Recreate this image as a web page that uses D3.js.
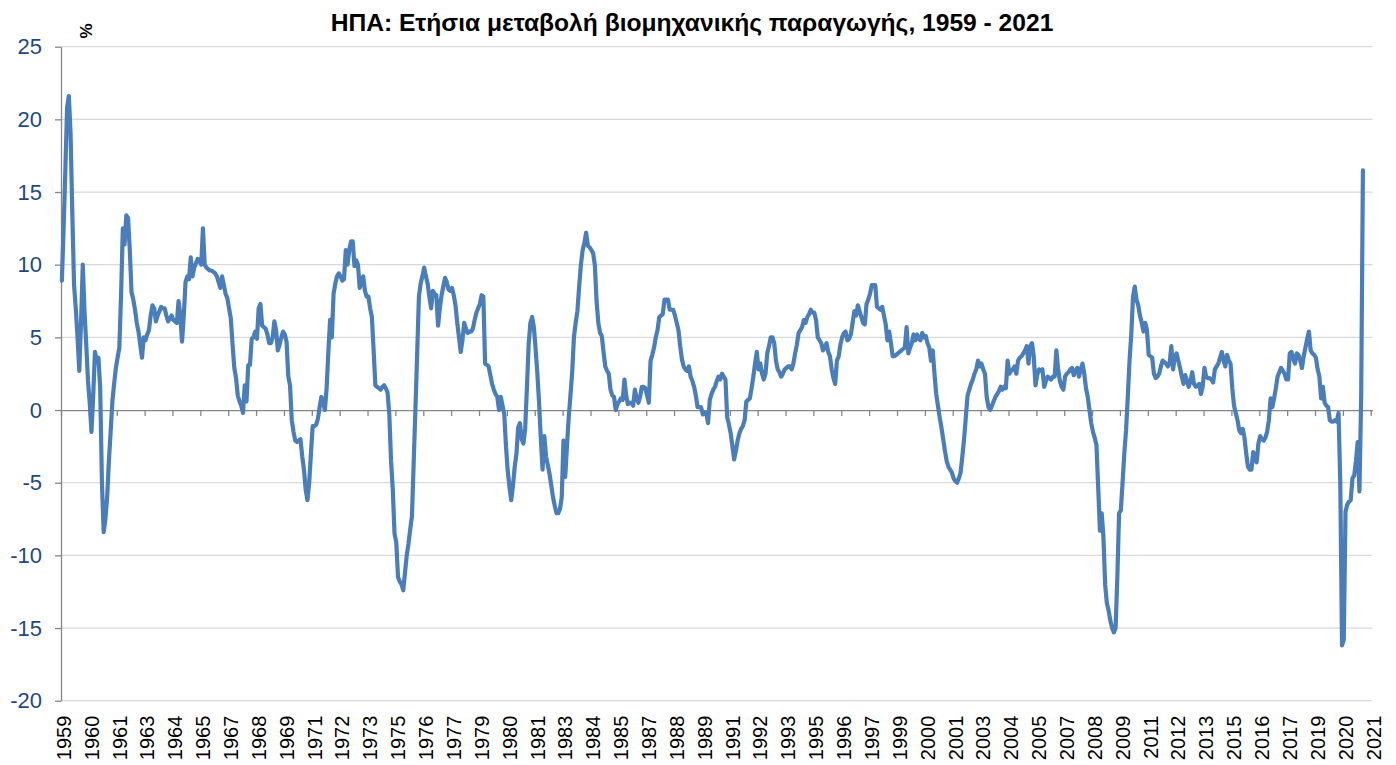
<!DOCTYPE html>
<html>
<head>
<meta charset="utf-8">
<script src="https://cdn.jsdelivr.net/npm/d3@7"></script>
<style>
  body { margin: 0; background: #fff; }
  svg { font-family: "Liberation Sans", Arial, sans-serif; }
</style>
</head>
<body>
<script>
// US industrial production, year-on-year % change, monthly from Jan 1959
var ip1959 = [8.9, 12.5, 16.5, 20.8, 21.6, 19.0, 13.5, 8.6, 7.0, 5.0, 2.7, 6.0];

var ip1960s = [
  10.0, 6.8, 4.5, 2.0, 0.5, -1.5, 1.0, 4.0, 3.4, 3.6, 1.5, -5.0,
  -8.4, -7.5, -6.0, -3.5, -1.5, 0.6, 1.8, 2.9, 3.6, 4.3, 8.0, 12.5,
  11.4, 13.4, 13.2, 11.0, 8.1, 7.6, 6.9, 6.0, 5.4, 4.5, 3.6, 5.0,
  4.8, 5.2, 5.5, 6.5, 7.2, 7.0, 6.1, 6.5, 6.8, 7.1, 7.0, 7.0,
  6.5, 6.1, 6.3, 6.5, 6.2, 6.1, 6.0, 7.5, 6.5, 4.7, 6.5, 8.8,
  9.2, 9.0, 10.5, 9.2, 9.8, 10.1, 10.4, 10.3, 10.0, 12.5, 10.0, 9.8,
  9.7, 9.6, 9.6, 9.5, 9.4, 9.2, 8.8, 8.4, 9.2, 8.6, 8.0, 7.7,
  7.0, 6.3, 4.5, 2.9, 2.2, 1.0, 0.6, 0.3, -0.2, 1.7, 0.6, 3.1,
  3.1, 4.9, 5.0, 5.4, 4.9, 7.0, 7.3, 5.8, 5.7, 5.6, 5.2, 4.6,
  4.6, 5.0, 6.1, 5.5, 4.1, 4.5, 5.0, 5.4, 5.2, 4.7, 2.3, 1.7
];

var ip1970s = [
  -0.7, -1.5, -2.1, -2.2, -2.1, -2.0, -3.2, -4.1, -5.5, -6.2, -5.0, -3.0,
  -1.1, -1.1, -1.0, -0.6, 0.2, 0.9, 0.5, 0.0, 1.5, 4.0, 6.2, 5.0,
  8.0, 8.7, 9.2, 9.4, 9.2, 8.9, 9.0, 11.0, 10.0, 11.0, 11.6, 11.6,
  9.9, 10.3, 10.0, 8.4, 8.8, 9.2, 8.2, 7.8, 7.8, 7.0, 6.4, 4.1,
  1.7, 1.6, 1.5, 1.4, 1.6, 1.7, 1.5, 1.2, -0.3, -3.5, -5.5, -8.5,
  -9.1, -11.5, -11.8, -12.0, -12.4, -11.2, -10.0, -9.2, -8.2, -7.3, -3.6, 0.1,
  3.9, 7.8, 8.7, 9.2, 9.8, 9.2, 8.7, 7.8, 7.0, 8.2, 8.0, 7.9,
  5.8, 7.0, 7.9, 8.5, 9.1, 8.8, 8.3, 8.2, 8.4, 7.9, 7.2, 6.0,
  5.0, 4.0, 4.8, 6.0, 5.6, 5.3, 5.4, 5.4, 5.6, 6.2, 6.7, 7.0,
  7.3, 7.9, 7.8, 3.2, 3.1, 3.0, 2.4, 1.8, 1.4, 1.1, 0.9, 0.0
];

var ip1980s = [
  0.9, 0.3, -0.3, -2.5, -4.2, -5.3, -6.2, -5.2, -3.9, -3.0, -1.2, -0.9,
  -2.0, -2.3, -1.3, 1.5, 4.5, 6.0, 6.4, 5.7, 4.2, 2.5, 0.5, -2.0,
  -4.1, -1.8, -3.2, -3.8, -4.4, -5.2, -6.0, -6.6, -7.1, -7.1, -6.8, -6.0,
  -2.1, -4.6, -2.5, -0.5, 1.0, 2.6, 5.0, 6.0, 6.8, 8.5, 10.0, 11.0,
  11.5, 12.2, 11.3, 11.2, 11.0, 10.8, 10.0, 7.5, 6.0, 5.3, 5.1, 4.0,
  3.0, 2.7, 2.5, 1.4, 1.0, 0.9, 0.0, 0.4, 0.6, 0.8, 0.7, 2.1,
  1.0, 0.4, 0.5, 0.5, 0.3, 1.4, 0.8, 0.5, 0.9, 1.6, 1.6, 1.5,
  1.0, 0.5, 3.4, 3.8, 4.3, 5.0, 5.5, 6.4, 6.5, 6.6, 7.6, 7.6,
  7.6, 6.9, 6.9, 6.9, 6.5, 6.0, 5.5, 4.4, 3.5, 3.0, 2.8, 2.7,
  3.0, 2.3, 2.0, 1.6, 1.0, 0.2, 0.2, 0.2, -0.3, -0.2, -0.2, -0.9
];

var ip1990s = [
  0.7, 1.1, 1.4, 1.6, 2.0, 2.3, 2.1, 2.5, 2.3, 2.1, -0.5, -1.0,
  -1.6, -2.5, -3.4, -2.8, -2.1, -1.6, -1.3, -1.1, -0.7, 0.6, 0.7, 0.8,
  1.5, 2.3, 3.2, 4.0, 2.8, 3.2, 2.5, 2.1, 2.5, 3.9, 4.4, 5.0,
  5.0, 4.6, 3.4, 2.8, 2.6, 2.3, 2.5, 2.8, 2.9, 3.0, 3.0, 2.8,
  3.2, 3.9, 4.5, 5.3, 5.5, 5.7, 6.2, 6.0, 6.4, 6.6, 6.9, 6.7,
  6.7, 6.2, 5.0, 4.8, 4.6, 4.1, 4.3, 4.6, 4.0, 3.7, 2.8, 2.2,
  1.8, 3.4, 3.7, 4.5, 5.0, 5.3, 5.4, 4.8, 4.9, 5.2, 6.0, 6.8,
  6.5, 7.2, 6.8, 6.4, 6.0, 5.9, 7.3, 7.6, 8.0, 8.6, 8.6, 8.6,
  7.1, 7.0, 6.9, 7.1, 6.5, 5.9, 4.8, 5.4, 4.6, 3.7, 3.7, 3.8,
  3.9, 4.0, 4.1, 4.2, 4.3, 5.7, 3.9, 4.3, 4.6, 5.2, 4.8, 5.2
];

var ip2000s = [
  4.9, 4.8, 5.3, 5.0, 5.1, 4.6, 4.3, 3.4, 4.1, 2.5, 1.1, 0.3,
  -0.5, -1.2, -2.0, -2.8, -3.5, -3.9, -4.1, -4.3, -4.7, -4.9, -5.0, -4.7,
  -4.3, -3.2, -2.0, -0.5, 1.0, 1.4, 1.8, 2.1, 2.5, 2.8, 3.4, 3.0,
  3.2, 2.8, 2.5, 0.9, 0.2, 0.0, 0.3, 0.6, 0.9, 1.1, 1.3, 1.6,
  1.4, 1.6, 1.5, 3.4, 2.5, 2.7, 2.8, 3.0, 2.5, 3.4, 3.6, 3.7,
  3.9, 4.1, 4.4, 3.2, 4.4, 4.6, 3.7, 1.7, 2.4, 2.8, 2.7, 2.8,
  1.6, 2.0, 2.3, 2.2, 2.1, 2.3, 2.3, 4.1, 2.8, 2.0, 1.6, 1.4,
  2.3, 2.5, 2.6, 2.8, 2.9, 2.4, 2.7, 2.9, 2.3, 2.8, 3.2, 2.5,
  1.5, 0.9, 0.0, -0.9, -1.5, -1.9, -2.4, -5.3, -8.3, -7.1, -8.7, -12.0,
  -13.3, -13.8, -14.5, -15.0, -15.3, -15.0, -11.5, -7.1, -6.9, -5.0, -3.0, -1.4
];

var ip2010s = [
  0.9, 3.4, 5.2, 7.8, 8.5, 7.6, 7.2, 6.5, 6.0, 5.4, 6.0, 5.5,
  3.8, 3.7, 3.6, 2.5, 2.2, 2.3, 2.5, 3.0, 3.4, 3.3, 3.2, 3.0,
  3.2, 4.4, 2.8, 3.6, 3.9, 3.4, 2.9, 2.3, 1.8, 2.4, 2.0, 1.6,
  2.0, 2.6, 1.8, 1.6, 1.7, 1.8, 1.1, 1.6, 2.9, 2.3, 2.2, 2.2,
  2.1, 1.9, 2.8, 3.0, 3.2, 3.6, 4.0, 3.4, 3.0, 3.8, 3.4, 3.2,
  1.5, 0.3, -0.2, -0.7, -1.4, -1.6, -1.3, -1.9, -3.0, -3.9, -4.1, -4.1,
  -2.9, -3.3, -3.6, -2.3, -1.8, -2.0, -2.1, -1.9, -1.5, -0.7, 0.8, 0.2,
  0.8, 1.5, 2.3, 2.6, 2.9, 2.7, 2.5, 2.1, 2.1, 3.9, 4.0, 3.5,
  3.2, 3.9, 3.8, 3.4, 2.9, 3.7, 4.3, 4.9, 5.4, 4.1, 3.9, 3.8,
  3.6, 2.8, 2.3, 0.8, 1.6, 0.5, 0.3, 0.2, -0.7, -0.8, -0.8, -0.7
];

var ip2020s = [
  -0.8, -0.2, -5.0, -16.2, -15.8, -7.0, -6.5, -6.3, -6.2, -4.7, -4.5, -3.5,
  -2.2, -5.6, 1.0, 16.5
];

// category axis: one slot per month, Jan 1959 .. Sep 2021, a label every 16 months
var nCategories = 753;
var labelEvery = 16;
var xTickLabels = ['1959', '1960', '1961', '1963', '1964', '1965', '1967', '1968',
  '1969', '1971', '1972', '1973', '1975', '1976', '1977', '1979', '1980', '1981',
  '1983', '1984', '1985', '1987', '1988', '1989', '1991', '1992', '1993', '1995',
  '1996', '1997', '1999', '2000', '2001', '2003', '2004', '2005', '2007', '2008',
  '2009', '2011', '2012', '2013', '2015', '2016', '2017', '2019', '2020', '2021'];
var yTicks = [-20, -15, -10, -5, 0, 5, 10, 15, 20, 25];

var title = 'ΗΠΑ: Ετήσια μεταβολή βιομηχανικής παραγωγής, 1959 - 2021';

var data = [].concat(ip1959, ip1960s, ip1970s, ip1980s, ip1990s, ip2000s, ip2010s, ip2020s);

var width = 1396, height = 765;
var plot = {left: 61, right: 1372.5, top: 46.7, bottom: 700.7};

var svg = d3.select('body').append('svg')
    .attr('width', width)
    .attr('height', height);

var x = d3.scaleLinear()
    .domain([0, nCategories])
    .range([plot.left, plot.right]);
var y = d3.scaleLinear()
    .domain([-20, 25])
    .range([plot.bottom, plot.top]);

// horizontal gridlines
svg.append('g')
  .selectAll('line')
    .data(yTicks.filter(function(d) { return d !== 0; }))
    .enter()
  .append('line')
    .attr('x1', plot.left)
    .attr('x2', plot.right)
    .attr('y1', function(d) { return y(d); })
    .attr('y2', function(d) { return y(d); })
    .attr('stroke', '#d9d9d9')
    .attr('stroke-width', 1.3);

// y axis (plain hyphen for negatives, like the original)
var yAxis = svg.append('g')
    .attr('transform', 'translate(' + plot.left + ',0)')
    .call(d3.axisLeft(y)
      .tickValues(yTicks)
      .tickFormat(function(d) { return String(d); })
      .tickSize(6).tickSizeOuter(0).tickPadding(13));
yAxis.select('.domain').attr('stroke', '#868686').attr('stroke-width', 1.3);
yAxis.selectAll('.tick line').attr('stroke', '#868686').attr('stroke-width', 1.3);
yAxis.selectAll('.tick text')
    .attr('fill', '#1f497d')
    .style('font-size', '22px');

// zero line with month-group tick marks
var zeroAxis = svg.append('g')
    .attr('transform', 'translate(0,' + y(0) + ')')
    .call(d3.axisBottom(x)
      .tickValues(d3.range(0, nCategories, labelEvery))
      .tickFormat('')
      .tickSize(6)
      .tickSizeOuter(0));
zeroAxis.select('.domain').attr('stroke', '#868686').attr('stroke-width', 1.3);
zeroAxis.selectAll('.tick line').attr('stroke', '#868686').attr('stroke-width', 1.3);

// year labels along the bottom, rotated
var labelAxis = svg.append('g')
    .attr('transform', 'translate(0,' + plot.bottom + ')')
    .call(d3.axisBottom(x)
      .tickValues(d3.range(0, nCategories, labelEvery).map(function(d) { return d + 0.5; }))
      .tickFormat(function(d, i) { return xTickLabels[i]; })
      .tickSize(0));
labelAxis.select('.domain').remove();
labelAxis.selectAll('.tick text')
    .attr('transform', 'rotate(-90)')
    .attr('x', -15)
    .attr('y', 0)
    .attr('dy', '0.42em')
    .style('text-anchor', 'end')
    .attr('fill', '#000')
    .style('font-size', '20px');

// the series
var line = d3.line()
    .x(function(d, i) { return x(i + 0.5); })
    .y(function(d) { return y(d); });

svg.append('path')
    .datum(data)
    .attr('d', line)
    .attr('fill', 'none')
    .attr('stroke', '#4a7ebb')
    .attr('stroke-width', 4.2)
    .attr('stroke-linejoin', 'round')
    .attr('stroke-linecap', 'round');

// title
svg.append('text')
    .attr('x', 692)
    .attr('y', 31)
    .style('text-anchor', 'middle')
    .style('font-size', '24.6px')
    .style('font-weight', 'bold')
    .text(title);

// unit label
svg.append('text')
    .attr('transform', 'translate(92, 31) rotate(-90)')
    .style('text-anchor', 'middle')
    .style('font-size', '17px')
    .style('font-weight', 'bold')
    .text('%');
</script>
</body>
</html>
